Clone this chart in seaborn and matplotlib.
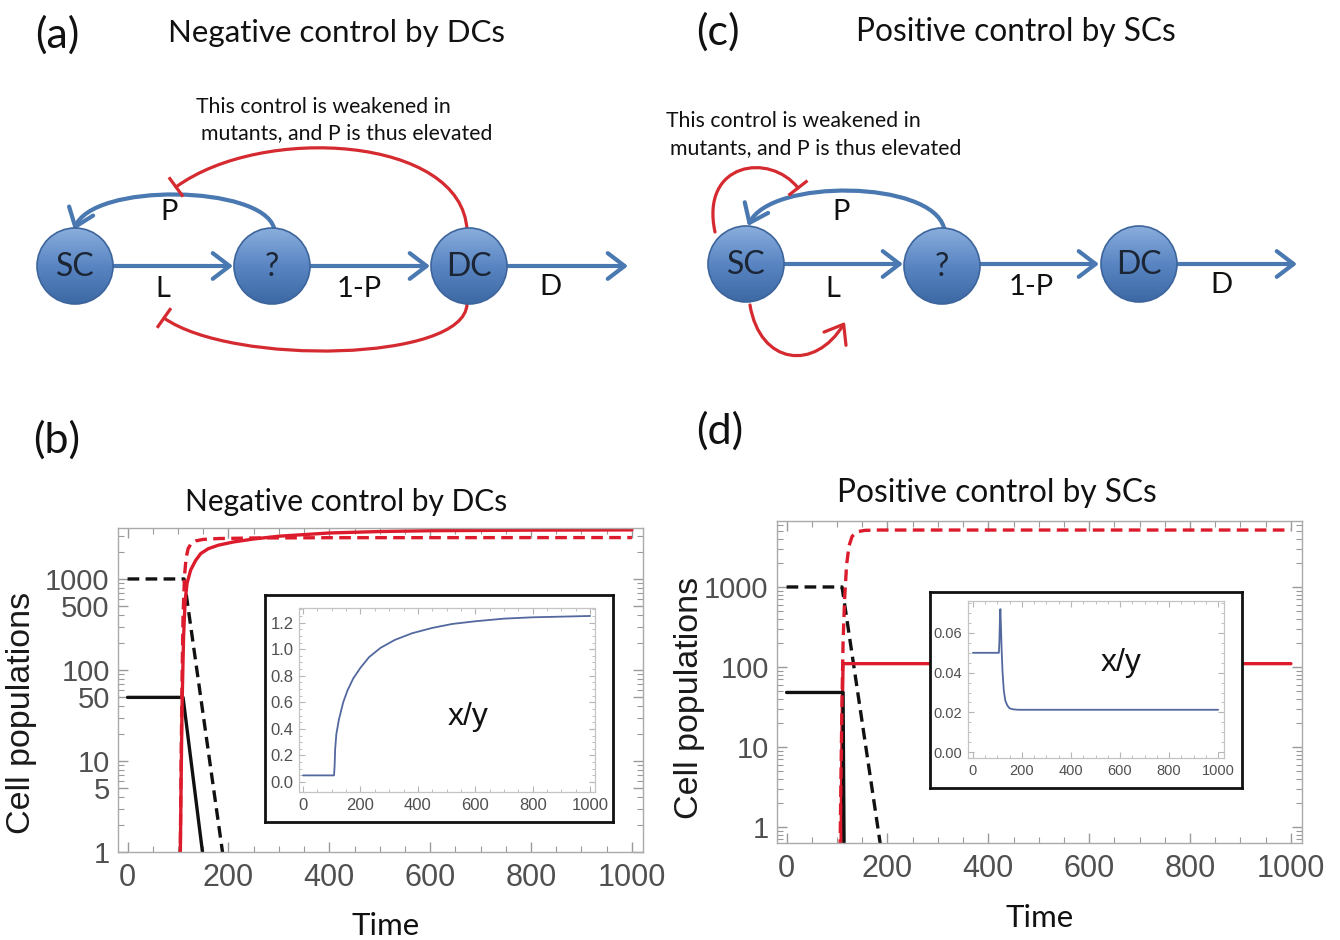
import matplotlib
matplotlib.use("Agg")
import numpy as np
import pandas as pd
import matplotlib.pyplot as plt
import seaborn as sns
from matplotlib.patches import Circle, FancyArrowPatch
from matplotlib.path import Path
from matplotlib.ticker import FixedLocator, FixedFormatter, NullFormatter
from matplotlib.colors import LinearSegmentedColormap

sns.set_theme(style="ticks")
plt.rcParams["font.family"] = ["Liberation Sans", "DejaVu Sans"]
HUMANIST = ["Lato", "DejaVu Sans"]

# ---------------- panel (b): negative control by DCs ----------------
b_wt_sc_t = [0, 110, 152]
b_wt_sc = [50, 50, 0.7]
b_wt_dc_t = [0, 112, 190]
b_wt_dc = [1000, 1000, 0.85]
b_mut_sc_t = [104, 106, 108, 111, 114, 118, 125, 135, 145, 160, 180, 210, 250,
              300, 400, 500, 600, 800, 1000]
b_mut_sc = [0.5, 5, 40, 230, 560, 900, 1250, 1600, 1900, 2150, 2350, 2550, 2750,
            2950, 3200, 3320, 3390, 3440, 3460]
b_mut_dc_t = [104, 106, 108, 110, 113, 116, 120, 126, 135, 150, 180, 250, 400, 1000]
b_mut_dc = [0.5, 8, 80, 400, 1100, 1700, 2150, 2450, 2620, 2720, 2780, 2820, 2840, 2850]
b_ratio_t = [0, 108, 110, 112, 116, 125, 140, 155, 175, 200, 230, 270, 320, 380,
             450, 520, 600, 700, 800, 900, 1000]
b_ratio = [0.05, 0.05, 0.12, 0.25, 0.36, 0.47, 0.60, 0.69, 0.78, 0.86, 0.94, 1.01,
           1.07, 1.12, 1.16, 1.19, 1.21, 1.23, 1.24, 1.245, 1.25]

# ---------------- panel (d): positive control by SCs ----------------
d_wt_sc_t = [0, 112, 114]
d_wt_sc = [48, 48, 0.5]
d_wt_dc_t = [0, 110, 186]
d_wt_dc = [1000, 1000, 0.6]
d_mut_sc_t = [108, 110, 112, 1000]
d_mut_sc = [0.5, 20, 110, 110]
d_mut_dc_t = [106, 108, 110, 112, 115, 119, 124, 130, 140, 155, 180, 1000]
d_mut_dc = [0.5, 5, 40, 200, 700, 1900, 3300, 4300, 4900, 5100, 5150, 5150]
d_ratio_t = [0, 106, 108, 110, 112, 114, 117, 121, 126, 132, 140, 150, 165, 185, 1000]
d_ratio = [0.05, 0.05, 0.056, 0.066, 0.072, 0.065, 0.052, 0.040, 0.031, 0.026,
           0.0235, 0.022, 0.0215, 0.0213, 0.0213]

time_ticks = [0, 200, 400, 600, 800, 1000]
b_yticks = [1, 5, 10, 50, 100, 500, 1000]
d_yticks = [1, 10, 100, 1000]
b_inset_yticks = [0.0, 0.2, 0.4, 0.6, 0.8, 1.0, 1.2]
d_inset_yticks = [0.00, 0.02, 0.04, 0.06]

RED = "#dc1c2c"
BLACK = "#111111"
INSET_BLUE = "#52689e"
NODE_BLUE = "#4a78b0"
LINK_RED = "#d42a30"
TICK_GRAY = "#505050"

W, H = 1340, 940
fig = plt.figure(figsize=(W / 100, H / 100), dpi=100)
fig.patch.set_facecolor("white")


def px_axes(left, top, right, bottom, z):
    ax = fig.add_axes([left / W, 1 - bottom / H, (right - left) / W, (bottom - top) / H])
    ax.set_zorder(z)
    return ax


def draw_series(ax, t, v, color, lw=2.4, dashed=False):
    df = pd.DataFrame({"t": t, "v": v})
    sns.lineplot(data=df, x="t", y="v", ax=ax, color=color, linewidth=lw,
                 estimator=None, sort=False)
    line = ax.lines[-1]
    if dashed:
        line.set_dashes([3.5, 1.9])
    return line


def log_minors(lo, hi):
    out = []
    dec = lo
    while dec < hi:
        for k in range(2, 10):
            val = k * dec
            if val <= hi:
                out.append(val)
        dec *= 10
    return out


def style_main(ax, yticks, ylim, minors):
    ax.set_yscale("log")
    ax.set_xlim(-19, 1022)
    ax.set_ylim(*ylim)
    ax.xaxis.set_major_locator(FixedLocator(time_ticks))
    ax.xaxis.set_minor_locator(FixedLocator(list(range(0, 1001, 50))))
    ax.xaxis.set_major_formatter(FixedFormatter([str(t) for t in time_ticks]))
    ax.yaxis.set_major_locator(FixedLocator(yticks))
    ax.yaxis.set_major_formatter(FixedFormatter([str(y) for y in yticks]))
    ax.yaxis.set_minor_locator(FixedLocator(minors))
    ax.yaxis.set_minor_formatter(NullFormatter())
    ax.tick_params(which="both", direction="in", top=True, right=True, color="#9a9a9a")
    ax.tick_params(which="major", length=7, width=1.0)
    ax.tick_params(which="minor", length=4, width=0.8)
    ax.tick_params(axis="x", labelsize=22, labelcolor=TICK_GRAY, pad=8)
    ax.tick_params(axis="y", labelsize=21, labelcolor=TICK_GRAY, pad=6)
    for s in ax.spines.values():
        s.set_color("#aaaaaa")
        s.set_linewidth(1.0)
    ax.set_facecolor("white")
    ax.set_xlabel("Time", fontsize=22.5, family=HUMANIST, color="#111111")
    ax.set_ylabel("Cell populations", fontsize=24.5, color="#1a1a1a")


def style_inset(ax, yticks, ylim, fmt, ymin_step, size):
    ax.set_xlim(-14, 1017)
    ax.set_ylim(*ylim)
    ax.xaxis.set_major_locator(FixedLocator(time_ticks))
    ax.xaxis.set_minor_locator(FixedLocator(list(range(0, 1001, 50))))
    ax.xaxis.set_major_formatter(FixedFormatter([str(t) for t in time_ticks]))
    ax.yaxis.set_major_locator(FixedLocator(yticks))
    ax.yaxis.set_major_formatter(FixedFormatter([fmt.format(y) for y in yticks]))
    mins = []
    v = yticks[0]
    while v <= ylim[1]:
        mins.append(round(v, 6))
        v += ymin_step
    ax.yaxis.set_minor_locator(FixedLocator(mins))
    ax.tick_params(which="both", direction="in", top=True, right=True, color="#b5b5b5")
    ax.tick_params(which="major", length=4, width=0.8)
    ax.tick_params(which="minor", length=2, width=0.6)
    ax.tick_params(labelsize=size, labelcolor=TICK_GRAY, pad=4)
    for s in ax.spines.values():
        s.set_color("#c4c4c4")
        s.set_linewidth(0.9)
    ax.set_xlabel("")
    ax.set_ylabel("")


def inset_border(left, top, right, bottom, z):
    bx = px_axes(left, top, right, bottom, z)
    bx.set_xticks([])
    bx.set_yticks([])
    bx.set_facecolor("white")
    for s in bx.spines.values():
        s.set_color("#111111")
        s.set_linewidth(2.0)
    return bx


# ---------------- schematic layer (panels a and c) ----------------
dg = fig.add_axes([0, 0, 1, 1])
dg.set_zorder(0)
dg.patch.set_visible(False)
dg.axis("off")

ball_cmap = LinearSegmentedColormap.from_list("ball", ["#8aaedd", "#5985c2", "#3c68a4"])
grad = np.linspace(0, 1, 128).reshape(-1, 1)


def node(cx, cy, label, r=38):
    base = Circle((cx, cy), r, facecolor="none", edgecolor="none")
    dg.add_patch(base)
    im = dg.imshow(grad, cmap=ball_cmap, extent=[cx - r, cx + r, cy + r, cy - r],
                   aspect="auto", zorder=3, interpolation="bicubic")
    im.set_clip_path(base)
    dg.add_patch(Circle((cx, cy), r, facecolor="none", edgecolor="#3d659c",
                        linewidth=1.2, zorder=4))
    dg.text(cx, cy + 1, label, ha="center", va="center", fontsize=23,
            family=HUMANIST, color="#1b2533", zorder=5)


def straight_arrow(x0, x1, y):
    dg.add_patch(FancyArrowPatch((x0, y), (x1, y),
                                 arrowstyle="->,head_length=0.55,head_width=0.42",
                                 mutation_scale=22, linewidth=3, color=NODE_BLUE,
                                 shrinkA=0, shrinkB=0, zorder=2))


def bezier(p0, p1, p2, p3):
    return Path([p0, p1, p2, p3], [Path.MOVETO, Path.CURVE4, Path.CURVE4, Path.CURVE4])


def curved_arrow(p0, p1, p2, p3, color, lw):
    dg.add_patch(FancyArrowPatch(path=bezier(p0, p1, p2, p3),
                                 arrowstyle="->,head_length=0.55,head_width=0.42",
                                 mutation_scale=22, linewidth=lw, color=color, zorder=2))


def inhibition(p0, p1, p2, p3, color, lw, half=12):
    dg.add_patch(FancyArrowPatch(path=bezier(p0, p1, p2, p3), arrowstyle="-",
                                 linewidth=lw, color=color, zorder=2))
    d = np.array(p3, float) - np.array(p2, float)
    d /= np.hypot(*d)
    perp = np.array([-d[1], d[0]])
    a = np.array(p3) - perp * half
    b = np.array(p3) + perp * half
    dg.plot([a[0], b[0]], [a[1], b[1]], color=color, lw=lw, solid_capstyle="butt", zorder=2)


def label(x, y, s, size=21, **kw):
    dg.text(x, y, s, ha="center", va="center", fontsize=size, family=HUMANIST,
            color="#111111", **kw)


NOTE_SIZE = 15.3

# panel (a)
label(57, 35, "(a)", size=31)
label(337, 33, "Negative control by DCs", size=22.5)
dg.text(196, 107, "This control is weakened in", ha="left", va="center",
        fontsize=NOTE_SIZE, family=HUMANIST, color="#111111")
dg.text(201, 133, "mutants, and P is thus elevated", ha="left", va="center",
        fontsize=NOTE_SIZE, family=HUMANIST, color="#111111")
curved_arrow((274, 228), (262, 185), (92, 182), (74, 230), NODE_BLUE, 3)
inhibition((467, 230), (462, 136), (262, 124), (176, 187), LINK_RED, 2.3)
inhibition((467, 304), (465, 362), (232, 366), (164, 318), LINK_RED, 2.3)
straight_arrow(113, 233, 266)
straight_arrow(310, 430, 266)
straight_arrow(507, 628, 266)
node(75, 266, "SC")
node(272, 266, "?")
node(469, 266, "DC")
label(169, 212, "P")
label(163, 289, "L")
label(359, 289, "1-P")
label(550, 287, "D")

# panel (c)
label(718, 32, "(c)", size=31)
label(1016, 32, "Positive control by SCs", size=22.8)
dg.text(666, 121, "This control is weakened in", ha="left", va="center",
        fontsize=NOTE_SIZE, family=HUMANIST, color="#111111")
dg.text(670, 148, "mutants, and P is thus elevated", ha="left", va="center",
        fontsize=NOTE_SIZE, family=HUMANIST, color="#111111")
curved_arrow((944, 228), (932, 180), (770, 178), (748, 226), NODE_BLUE, 3)
inhibition((715, 232), (700, 162), (770, 152), (798, 188), LINK_RED, 2.3)
curved_arrow((750, 305), (760, 365), (815, 372), (845, 322), LINK_RED, 2.3)
straight_arrow(785, 903, 264)
straight_arrow(981, 1099, 264)
straight_arrow(1177, 1297, 264)
node(746, 264, "SC")
node(942, 266, "?")
node(1139, 264, "DC")
label(841, 212, "P")
label(833, 289, "L")
label(1031, 287, "1-P")
label(1221, 285, "D")

# panel labels and titles for the time courses
label(57, 440, "(b)", size=31)
label(346, 502, "Negative control by DCs", size=21.5)
label(720, 431, "(d)", size=31)
label(997, 493, "Positive control by SCs", size=22.8)

dg.set_xlim(0, W)
dg.set_ylim(H, 0)

# ---------------- panel (b) ----------------
axb = px_axes(118, 528, 643, 852, 1)
axb.set_yscale("log")
draw_series(axb, b_wt_dc_t, b_wt_dc, BLACK, dashed=True)
draw_series(axb, b_wt_sc_t, b_wt_sc, BLACK)
draw_series(axb, b_mut_sc_t, b_mut_sc, RED)
draw_series(axb, b_mut_dc_t, b_mut_dc, RED, dashed=True)
style_main(axb, b_yticks, (1, 3630), log_minors(1, 3000))
axb.xaxis.set_label_coords(0.51, -0.185)
axb.yaxis.set_label_coords(-0.155, 0.43)

inset_border(265, 595, 613, 822, 2)
ixb = px_axes(299, 608, 595, 792, 3)
draw_series(ixb, b_ratio_t, b_ratio, INSET_BLUE, lw=1.3)
style_inset(ixb, b_inset_yticks, (-0.075, 1.31), "{:.1f}", 0.05, 12)
fig.text(468 / W, 1 - 717 / H, "x/y", ha="center", va="center", fontsize=23,
         color="#111111", zorder=10)

# ---------------- panel (d) ----------------
axd = px_axes(777, 521, 1302, 843, 1)
axd.set_yscale("log")
draw_series(axd, d_wt_dc_t, d_wt_dc, BLACK, dashed=True)
draw_series(axd, d_mut_sc_t, d_mut_sc, RED)
draw_series(axd, d_wt_sc_t, d_wt_sc, BLACK)
draw_series(axd, d_mut_dc_t, d_mut_dc, RED, dashed=True)
style_main(axd, d_yticks, (0.63, 6680), log_minors(0.1, 6000))
axd.xaxis.set_label_coords(0.5, -0.19)
axd.yaxis.set_label_coords(-0.138, 0.45)

inset_border(930, 592, 1242, 788, 2)
ixd = px_axes(968, 601, 1224, 758, 3)
draw_series(ixd, d_ratio_t, d_ratio, INSET_BLUE, lw=1.3)
style_inset(ixd, d_inset_yticks, (-0.003, 0.0761), "{:.2f}", 0.005, 10.5)
ixd.set_xlim(-20, 1024)
fig.text(1121 / W, 1 - 663 / H, "x/y", ha="center", va="center", fontsize=23,
         color="#111111", zorder=10)

fig.savefig("out.png", dpi=100, facecolor="white")
